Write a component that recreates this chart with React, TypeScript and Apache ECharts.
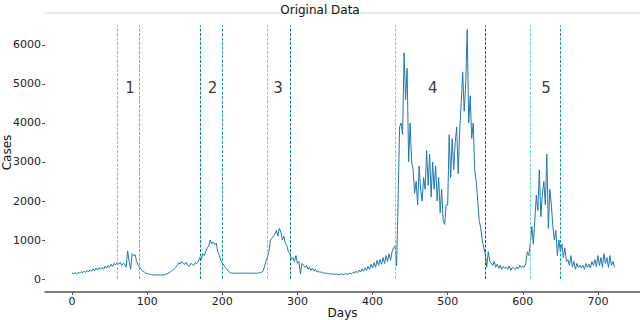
import React, { useEffect, useRef } from "react";
import * as echarts from "echarts";

const DAY_STEP = 2;
// cases every 2 days, starting at day 0
const cases: number[] = [
  150, 140, 160, 130, 170, 150, 190, 160, 200, 170,
  220, 180, 240, 200, 260, 210, 280, 230, 290, 250,
  300, 250, 330, 280, 350, 300, 380, 320, 400, 360,
  420, 380, 430, 350, 400, 380, 300, 720, 450, 250,
  650, 600, 620, 450, 350, 300, 250, 200, 180, 150,
  140, 130, 120, 110, 110, 100, 110, 100, 105, 100,
  110, 100, 120, 130, 150, 170, 200, 230, 260, 300,
  350, 420, 380, 450, 400, 380, 430, 350, 320, 400,
  380, 350, 420, 400, 450, 550, 500, 650, 600, 700,
  800, 850, 1000, 900, 950, 880, 920, 700, 600, 480,
  420, 350, 300, 250, 200, 170, 150, 150, 150, 150,
  150, 150, 150, 150, 150, 150, 150, 150, 150, 150,
  150, 150, 150, 150, 150, 160, 170, 200, 300, 450,
  550, 700, 1000, 1050, 1100, 1150, 1250, 1100, 1300, 1200,
  1000, 1100, 900, 850, 700, 650, 500, 550, 450, 600,
  400, 450, 130, 400, 350, 300, 350, 250, 300, 220,
  280, 200, 250, 180, 200, 170, 180, 150, 160, 140,
  150, 130, 140, 120, 130, 120, 130, 110, 120, 130,
  110, 120, 140, 120, 130, 150, 130, 170, 150, 200,
  160, 230, 180, 260, 200, 280, 220, 320, 250, 380,
  280, 420, 300, 480, 350, 500, 380, 550, 400, 600,
  450, 650, 480, 700, 800, 850, 330, 2000, 3900, 4000,
  3700, 5800, 4600, 5400, 3000, 4000, 3000, 2800, 2200, 2500,
  1900, 2900, 2300, 2000, 2600, 2300, 3300, 2400, 3200, 2100,
  3000, 2300, 2900, 2000, 2600, 1700, 2300, 1500, 1400, 1900,
  1900, 3700, 2600, 3600, 2800, 3500, 3900, 2700, 3800, 4500,
  5300, 4300, 5000, 6400, 4000, 4700, 3600, 4000, 2800, 2500,
  2000, 1500, 1300, 1000, 800, 650, 300, 700, 450, 400,
  350, 450, 300, 380, 270, 350, 250, 320, 280, 300,
  250, 330, 220, 300, 280, 240, 310, 260, 350, 300,
  330, 300, 400, 700, 600, 900, 1350, 900, 1500, 2150,
  1750, 2800, 1600, 2150, 2500, 1900, 3200, 1300, 2300, 1900,
  1350, 1000, 1250, 600, 1000, 700, 900, 550, 800, 450,
  500, 350, 600, 300, 450, 250, 400, 300, 350, 280,
  350, 250, 400, 300, 380, 280, 450, 350, 500, 320,
  600, 350, 550, 300, 650, 400, 550, 300, 600, 350,
  450, 300,
];

const boundaryDays = [60, 90, 170, 200, 260, 290, 430, 550, 610, 650];
const boundaryColors = [
  "#66cccc", "#4dbdbd", "#008385", "#1a9a9a", "#70d0d0",
  "#007a7c", "#70d0d0", "#00676a", "#66cccc", "#129a9a",
];
const boundaryTop = 6500;

const waveNames = ["1", "2", "3", "4", "5"];
const waveLabelDays = [77, 187, 274, 480, 631];
const waveLabelCases = [4900, 4900, 4900, 4900, 4900];

const xTicks = [0, 100, 200, 300, 400, 500, 600, 700];
const yTicks = [0, 1000, 2000, 3000, 4000, 5000, 6000];

const FONT = "DejaVu Sans";

export default function App() {
  const ref = useRef<HTMLDivElement>(null);
  useEffect(() => {
    document.body.style.margin = "0";
    if (!ref.current) return;
    const chart = echarts.init(ref.current, undefined, { renderer: "svg" });
    const lineData = cases.map((v, i) => [i * DAY_STEP, v]);
    const markData = boundaryDays.map((d, i) => [
      { xAxis: d, yAxis: 0, lineStyle: { color: boundaryColors[i] } },
      { xAxis: d, yAxis: boundaryTop },
    ]);
    chart.setOption({
      animation: false,
      backgroundColor: "#ffffff",
      title: {
        text: "Original Data",
        left: "center",
        top: -1,
        textStyle: { fontFamily: FONT, fontSize: 12, fontWeight: "normal", color: "#111" },
      },
      grid: { left: 45, right: 0, top: 13, bottom: 28, containLabel: false, outerBoundsMode: "none" },
      xAxis: [
        {
          type: "value",
          min: -36,
          max: 756,
          name: "Days",
          nameLocation: "middle",
          nameGap: 15,
          nameMoveOverlap: false,
          nameTextStyle: { fontFamily: FONT, fontSize: 12, color: "#111" },
          axisLine: { show: true, onZero: false, lineStyle: { color: "#555", width: 1.5 } },
          axisTick: { show: true, length: 3, customValues: xTicks, lineStyle: { color: "#555" } },
          axisLabel: {
            customValues: xTicks,
            margin: 4,
            formatter: (v: number) => String(v),
            fontFamily: FONT,
            fontSize: 11,
            color: "#222",
          },
          splitLine: { show: false },
        },
        {
          type: "value",
          position: "top",
          min: -36,
          max: 756,
          axisLine: { show: true, onZero: false, lineStyle: { color: "#e2e2e2", width: 1.5 } },
          axisTick: { show: false },
          axisLabel: { show: false },
          splitLine: { show: false },
        },
      ],
      yAxis: {
        type: "value",
        position: "left",
        min: -333,
        max: 6820,
        name: "Cases",
        nameLocation: "middle",
        nameGap: 32,
        nameMoveOverlap: false,
        nameTextStyle: { fontFamily: FONT, fontSize: 12, color: "#111" },
        axisLine: { show: false, onZero: false },
        axisTick: { show: true, length: 3, customValues: yTicks, lineStyle: { color: "#555" } },
        axisLabel: {
          customValues: yTicks,
          margin: 4,
          formatter: (v: number) => String(v),
          fontFamily: FONT,
          fontSize: 11,
          color: "#222",
        },
        splitLine: { show: false },
      },
      series: [
        {
          type: "line",
          data: lineData,
          showSymbol: false,
          symbol: "none",
          lineStyle: { color: "#1f77b4", width: 1 },
          markLine: {
            silent: true,
            symbol: ["none", "none"],
            label: { show: false },
            lineStyle: { type: [3, 1.5], width: 1 },
            data: markData,
          },
        },
        {
          type: "scatter",
          symbolSize: 0,
          data: waveNames.map((n, i) => ({ name: n, value: [waveLabelDays[i], waveLabelCases[i]] })),
          label: {
            show: true,
            position: "inside",
            formatter: (p: any) => p.name,
            fontFamily: FONT,
            fontSize: 15,
            color: "#000",
          },
        },
      ],
    });
    return () => chart.dispose();
  }, []);
  return (
    <div
      ref={ref}
      style={{ position: "absolute", left: 0, top: 0, width: 640, height: 320, background: "#fff" }}
    />
  );
}
